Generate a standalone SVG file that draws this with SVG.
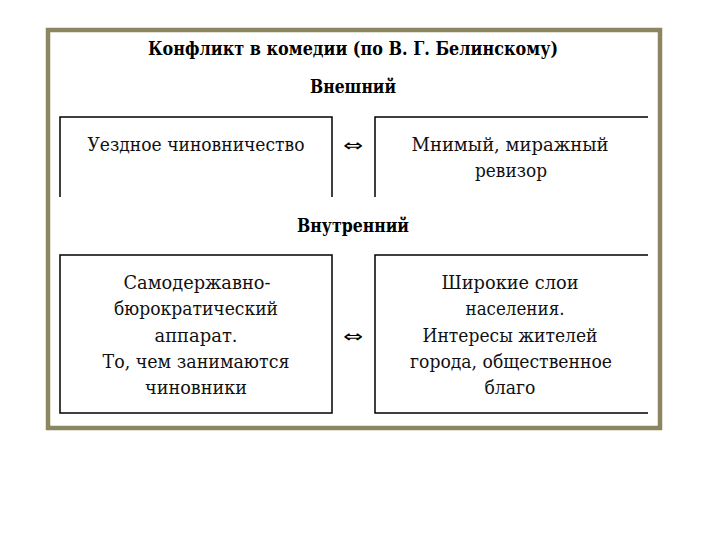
<svg xmlns="http://www.w3.org/2000/svg" width="720" height="540" viewBox="0 0 720 540">
<style>
.frame{fill:#fff;stroke:#8c8660;stroke-width:4.5}
.box{fill:none;stroke:#000;stroke-width:1.5}
.t{font-family:"DejaVu Serif","Liberation Serif",serif;font-size:19px;fill:#111;text-anchor:middle}
.h{font-family:"DejaVu Serif","Liberation Serif",serif;font-size:18px;font-weight:bold;fill:#000;text-anchor:middle}
.arr{font-family:"DejaVu Sans",sans-serif;font-size:17px;fill:#000;text-anchor:middle}
</style>
<rect width="720" height="540" fill="#fff"/>
<rect class="frame" x="48" y="30" width="612" height="398"/>
<g id="headings">
<text class="h" x="353" y="55" textLength="410" lengthAdjust="spacingAndGlyphs">Конфликт в комедии (по В. Г. Белинскому)</text>
<text class="h" x="353" y="93" textLength="86" lengthAdjust="spacingAndGlyphs">Внешний</text>
<text class="h" x="353" y="232" textLength="112" lengthAdjust="spacingAndGlyphs">Внутренний</text>
</g>
<g id="ext-left">
<path class="box" d="M60 197V117H332V197"/>
<text class="t" x="196" y="151" textLength="217" lengthAdjust="spacingAndGlyphs">Уездное чиновничество</text>
</g>
<g id="ext-right">
<path class="box" d="M375 197V117H648"/>
<text class="t" x="510" y="151" textLength="197" lengthAdjust="spacingAndGlyphs">Мнимый, миражный</text>
<text class="t" x="511" y="177" textLength="72" lengthAdjust="spacingAndGlyphs">ревизор</text>
</g>
<g id="int-left">
<rect class="box" x="60" y="255" width="272" height="158"/>
<text class="t" x="197" y="289" textLength="147" lengthAdjust="spacingAndGlyphs">Самодержавно-</text>
<text class="t" x="196" y="315" textLength="164" lengthAdjust="spacingAndGlyphs">бюрократический</text>
<text class="t" x="196" y="342" textLength="83" lengthAdjust="spacingAndGlyphs">аппарат.</text>
<text class="t" x="196" y="368" textLength="187" lengthAdjust="spacingAndGlyphs">То, чем занимаются</text>
<text class="t" x="196" y="394" textLength="102" lengthAdjust="spacingAndGlyphs">чиновники</text>
</g>
<g id="int-right">
<path class="box" d="M648 255H375V413H648"/>
<text class="t" x="510" y="289" textLength="137" lengthAdjust="spacingAndGlyphs">Широкие слои</text>
<text class="t" x="515" y="315" textLength="99" lengthAdjust="spacingAndGlyphs">населения.</text>
<text class="t" x="510" y="342" textLength="175" lengthAdjust="spacingAndGlyphs">Интересы жителей</text>
<text class="t" x="511" y="368" textLength="202" lengthAdjust="spacingAndGlyphs">города, общественное</text>
<text class="t" x="510" y="394" textLength="51" lengthAdjust="spacingAndGlyphs">благо</text>
</g>
<g id="connectors">
<text class="arr" x="353" y="151" textLength="20" lengthAdjust="spacingAndGlyphs">⇔</text>
<text class="arr" x="353" y="342" textLength="20" lengthAdjust="spacingAndGlyphs">⇔</text>
</g>
</svg>
